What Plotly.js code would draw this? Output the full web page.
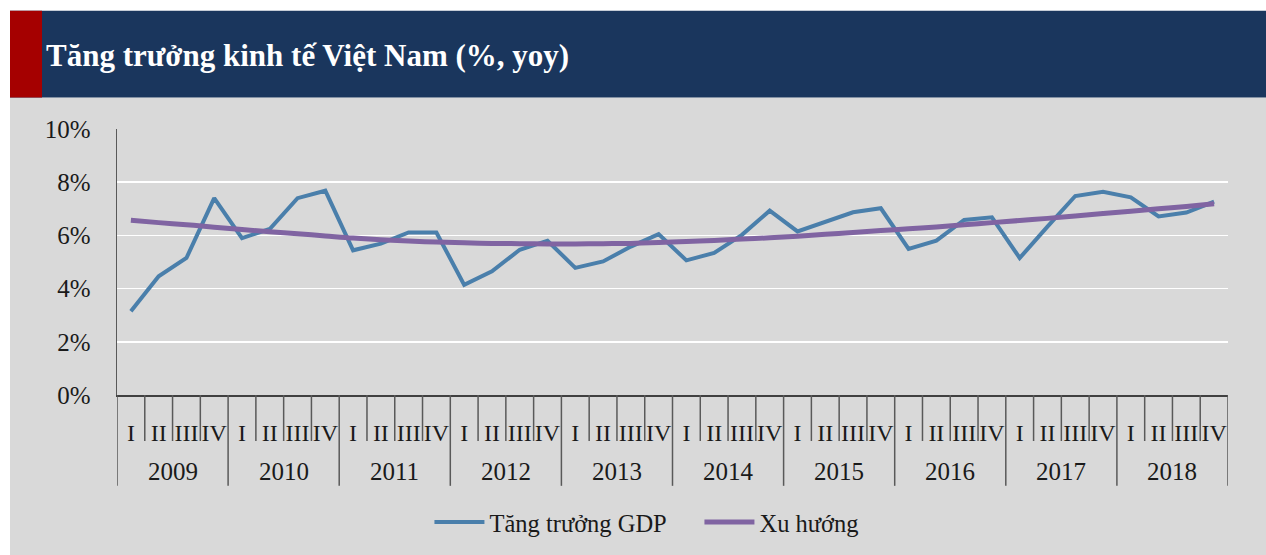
<!DOCTYPE html>
<html>
<head>
<meta charset="utf-8">
<script src="https://cdn.plot.ly/plotly-3.0.1.min.js"></script>
<style>html,body{margin:0;padding:0;background:#fff;}#chart{width:1266px;height:555px;}</style>
</head>
<body>
<div id="chart"></div>
<script>
const years = ["2009","2010","2011","2012","2013","2014","2015","2016","2017","2018"];
const quarters = ["I","II","III","IV"];
const gdpGrowth = [3.15,4.46,5.15,7.40, 5.90,6.24,7.40,7.68, 5.44,5.69,6.11,6.11, 4.14,4.65,5.46,5.80,
  4.78,5.02,5.58,6.05, 5.06,5.34,6.02,6.93, 6.15,6.52,6.87,7.02, 5.49,5.80,6.58,6.68,
  5.15,6.33,7.48,7.64, 7.43,6.71,6.86,7.27];
const trend = [6.57,6.48,6.40,6.31, 6.22,6.14,6.06,5.98, 5.90,5.84,5.79,5.75, 5.72,5.70,5.69,5.68,
  5.68,5.69,5.70,5.73, 5.77,5.81,5.86,5.91, 5.97,6.04,6.11,6.18, 6.25,6.32,6.40,6.48,
  6.56,6.64,6.73,6.82, 6.91,7.00,7.09,7.19];
const yTicks = [0,2,4,6,8,10];
const seriesNames = ["Tăng trưởng GDP","Xu hướng"];
const titleText = "Tăng trưởng kinh tế Việt Nam (%, yoy)";

const W = 1266, H = 555;
const L = 117, R = 1228, T = 128.7, B = 395.8;
const px = v => (v - L) / (R - L);
const py = v => (B - v) / (B - T);

const idx = [], qLabels = [];
years.forEach((y, yi) => quarters.forEach((q, qi) => { idx.push(yi*4+qi); qLabels.push(q); }));

const font = "Liberation Serif";
const shapes = [
  {type:'rect', xref:'paper', yref:'paper', x0:px(10), x1:px(W), y0:py(97), y1:py(H+2), fillcolor:'#d9d9d9', line:{width:0}, layer:'below'},
  {type:'rect', xref:'paper', yref:'paper', x0:px(10), x1:px(W), y0:py(10), y1:py(97), fillcolor:'#1a365d', line:{width:0}, layer:'below'},
  {type:'rect', xref:'paper', yref:'paper', x0:px(10), x1:px(42), y0:py(10), y1:py(97), fillcolor:'#a50000', line:{width:0}, layer:'below'}
];
const nQ = idx.length;
for (let i = 0; i <= nQ; i++) {
  const isYear = (i % 4 === 0);
  shapes.push({type:'line', xref:'x', yref:'paper', x0:i-0.5, x1:i-0.5, y0:0,
    y1: isYear ? py(487) : py(442), line:{color:'#595959', width:1.5}});
}
const annotations = years.map((y, yi) => ({
  text:y, xref:'x', yref:'paper', x: yi*4+1.5, y: py(472.5), showarrow:false,
  xanchor:'center', yanchor:'middle', font:{family:font, size:25, color:'#1a1a1a'}
}));

const traces = [
  {x: idx, y: gdpGrowth, name: seriesNames[0], type:'scatter', mode:'lines',
   line:{color:'#4a7fab', width:4}},
  {x: idx, y: trend, name: seriesNames[1], type:'scatter', mode:'lines',
   line:{color:'#8064a2', width:5, shape:'spline'}}
];

const layout = {
  width: W, height: H,
  margin:{l:L, r:W-R, t:T, b:H-B, pad:0},
  paper_bgcolor:'#ffffff', plot_bgcolor:'rgba(0,0,0,0)',
  title:{text:'<b>'+titleText+'</b>', xref:'container', yref:'container', x:46/W, xanchor:'left',
    y:1-55/H, yanchor:'middle', font:{family:font, size:31, color:'#ffffff'}},
  xaxis:{range:[-0.5, nQ-0.5], tickvals: idx, ticktext: qLabels, showgrid:false, zeroline:false,
    showline:true, linecolor:'#404040', linewidth:1.5, ticks:'', ticklabelstandoff:16,
    tickfont:{family:font, size:24, color:'#1a1a1a'}},
  yaxis:{range:[0,10], tickvals: yTicks, ticktext: yTicks.map(v => v+'%'), showgrid:true,
    gridcolor:'#ffffff', gridwidth:1.5, zeroline:false, showline:true, linecolor:'#595959', linewidth:1.5,
    ticks:'', ticklabelstandoff:20, tickfont:{family:font, size:25, color:'#1a1a1a'}},
  showlegend:true,
  legend:{orientation:'h', x:px(435)-0.005, xanchor:'left', y:py(522), yanchor:'middle',
    font:{family:font, size:24.5, color:'#1a1a1a'}, bgcolor:'rgba(0,0,0,0)', itemwidth:50,
    entrywidth:205, entrywidthmode:'pixels', tracegroupgap:0},
  shapes: shapes,
  annotations: annotations
};
Plotly.newPlot('chart', traces, layout, {displayModeBar:false, staticPlot:true});
</script>
</body>
</html>
